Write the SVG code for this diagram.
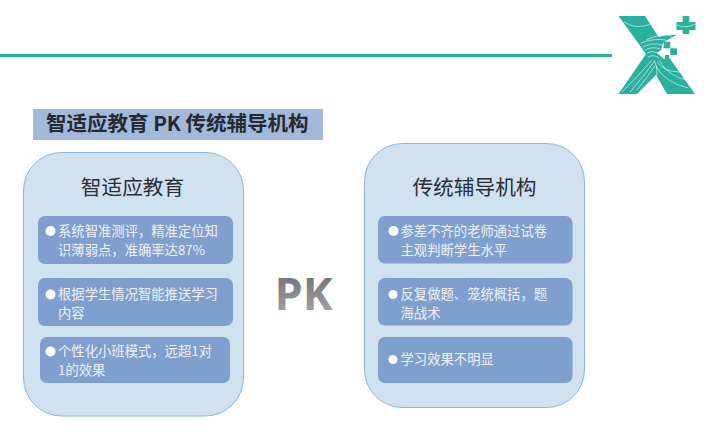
<svg xmlns="http://www.w3.org/2000/svg" width="707" height="434" viewBox="0 0 707 434">
<defs>
<linearGradient id="pkg" x1="0" y1="0" x2="0" y2="1"><stop offset="0" stop-color="#63636b"/><stop offset="1" stop-color="#adadb2"/></linearGradient>
</defs>
<style>
text{font-family:"Noto Sans CJK SC","Noto Sans",sans-serif}
.panel{fill:#d0e1f0;stroke:#8db4d8;stroke-width:1}
.box{fill:#7f9fcf}
.item{font-size:13.33px;fill:#eef2f8}
.head{font-size:20.7px;fill:#2a2f36;text-anchor:middle}
.dot{fill:#fff}
.wl{fill:none;stroke:#d5f0ea;stroke-width:.7}
.tl{fill:#2bb0a0}
</style>
<rect width="707" height="434" fill="#fff"/>
<rect x="0" y="54" width="612" height="3" fill="#2bb0a0"/>
<g id="logo">
<path class="tl" d="M618.500 16H645L658.500 37Q668 34 677 35Q668 39 663 43L661 50L657 53L664 59L668 56L695 94H667L656 75L637 94H618.500L646 54Z"/>
<path class="wl" d="M624 22Q636 30 651 24Q655 26 657 28M646 40Q660 33 672 36M641 43Q654 38 666 40M643 47Q653 42 662 45M645 50Q653 46 660 49M647 53Q653 50 658 53M648 57Q654 54 659 58M622 92Q640 74 652 60M630 92Q642 78 654 62M637 90Q648 76 655 66M654 60Q660 72 654 84M657 62Q664 72 680 72M659 60Q668 76 686 80M656 66Q664 82 688 88"/>
<path class="tl" d="M682.700 16H689.300V22H695.500V30H689.300V34H682.700V30H676.500V22H682.700Z"/>
<path class="wl" d="M677 25Q686 29 695 24"/>
<rect class="tl" x="663.700" y="41.700" width="6.600" height="6.600"/>
<rect class="tl" x="670.300" y="48.300" width="6.700" height="6.700"/>
<rect class="tl" x="665" y="55" width="4" height="4"/>
</g>
<g id="title">
<rect x="33" y="109" width="290" height="31" fill="#a3b9dc"/>
<text x="46" y="131" font-size="20.500" font-weight="700" fill="#262a30">智适应教育 PK 传统辅导机构</text>
</g>
<g id="left-panel">
<rect class="panel" x="23.500" y="152.500" width="220" height="263.500" rx="38" ry="38"/>
<text class="head" x="132.500" y="195">智适应教育</text>
</g>
<g id="left-item-1">
<rect class="box" x="38" y="216" width="195" height="48" rx="7"/>
<circle class="dot" cx="50.500" cy="231" r="5"/>
<text class="item" x="58" y="236">系统智准测评，精准定位知</text>
<text class="item" x="58" y="255">识薄弱点，准确率达87%</text>
</g>
<g id="left-item-2">
<rect class="box" x="38" y="278" width="195" height="48" rx="7"/>
<circle class="dot" cx="50.500" cy="294.500" r="5"/>
<text class="item" x="58" y="299">根据学生情况智能推送学习</text>
<text class="item" x="58" y="318">内容</text>
</g>
<g id="left-item-3">
<rect class="box" x="40" y="337" width="190" height="46" rx="7"/>
<circle class="dot" cx="50.500" cy="351.500" r="5"/>
<text class="item" x="58" y="356">个性化小班模式，远超1对</text>
<text class="item" x="58" y="375">1的效果</text>
</g>
<g id="pk">
<text x="274.500" y="310" font-size="45" font-weight="700" fill="url(#pkg)" style="font-family:'Open Sans','Noto Sans',sans-serif">PK</text>
</g>
<g id="right-panel">
<rect class="panel" x="364.500" y="143.500" width="220" height="264" rx="38" ry="38"/>
<text class="head" x="474.500" y="195">传统辅导机构</text>
</g>
<g id="right-item-1">
<rect class="box" x="378" y="216" width="194.500" height="47.500" rx="7"/>
<circle class="dot" cx="393.500" cy="231" r="5"/>
<text class="item" x="400.500" y="236">参差不齐的老师通过试卷</text>
<text class="item" x="400.500" y="255">主观判断学生水平</text>
</g>
<g id="right-item-2">
<rect class="box" x="378" y="278" width="194.500" height="47.500" rx="7"/>
<circle class="dot" cx="393" cy="294.500" r="4.500"/>
<text class="item" x="400.500" y="299">反复做题、笼统概括，题</text>
<text class="item" x="400.500" y="318">海战术</text>
</g>
<g id="right-item-3">
<rect class="box" x="378" y="337" width="194.500" height="46" rx="7"/>
<circle class="dot" cx="393" cy="359.500" r="4.500"/>
<text class="item" x="400.500" y="364">学习效果不明显</text>
</g>
</svg>
